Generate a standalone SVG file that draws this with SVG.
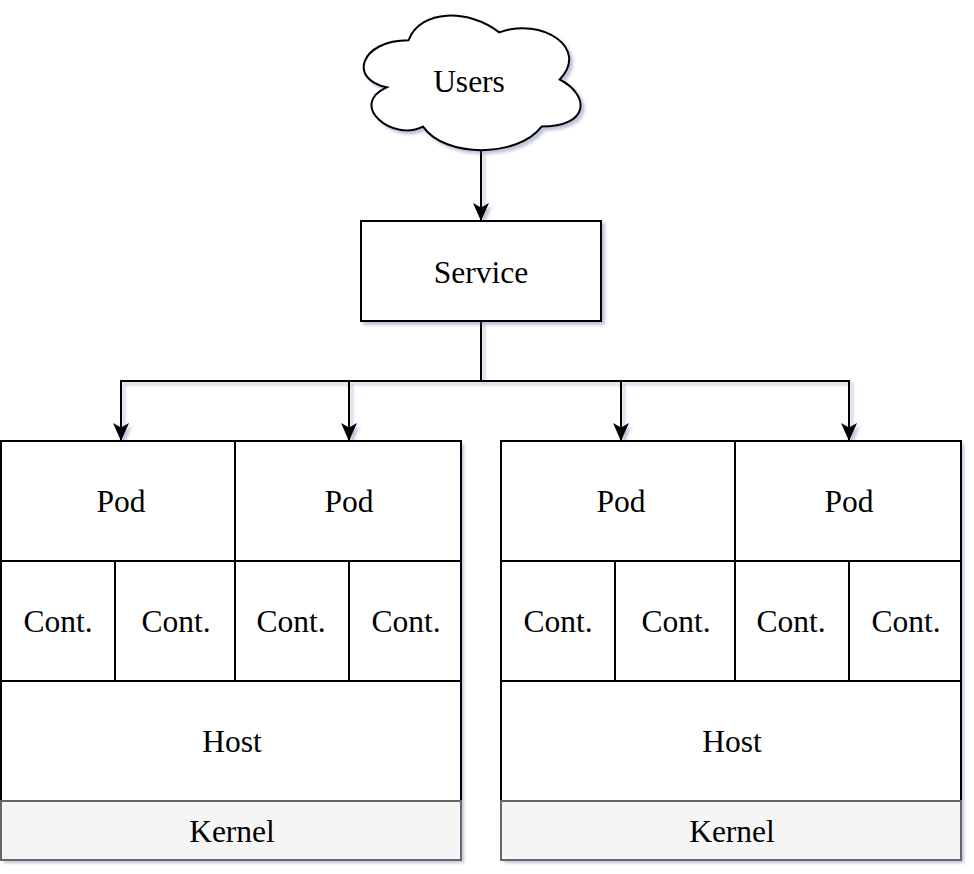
<svg xmlns="http://www.w3.org/2000/svg" width="974" height="874" viewBox="0 0 974 874">
<defs>
<filter id="sh" filterUnits="userSpaceOnUse" x="0" y="0" width="974" height="874">
<feDropShadow dx="3" dy="3" stdDeviation="1.6" flood-color="#4a5290" flood-opacity="0.35"/>
</filter>
<marker id="arr" markerUnits="userSpaceOnUse" markerWidth="20" markerHeight="20" viewBox="-10 -19 20 20" refX="0" refY="0" orient="auto-start-reverse" overflow="visible">
<path d="M0,0 L-8,-18 L0,-13.5 L8,-18 Z" fill="#000" transform="rotate(-90)"/>
</marker>
<style>
.c{fill:#fff;stroke:#000;stroke-width:2}
.k{fill:#f5f5f5;stroke:#666;stroke-width:2}
.t{font-family:"Liberation Serif",serif;font-size:31.5px;fill:#000;text-anchor:middle}
.e{fill:none;stroke:#000;stroke-width:2}
</style>
</defs>
<rect width="974" height="874" fill="#fff"/>

<g id="connectors" filter="url(#sh)">
<path class="e" d="M481,151 V221" marker-end="url(#arr)"/>
<path class="e" d="M481,321 V381 H121 V441" marker-end="url(#arr)"/>
<path class="e" d="M481,321 V381 H349 V441" marker-end="url(#arr)"/>
<path class="e" d="M481,321 V381 H621 V441" marker-end="url(#arr)"/>
<path class="e" d="M481,321 V381 H849 V441" marker-end="url(#arr)"/>
</g>

<g id="users">
<path class="c" filter="url(#sh)" d="M408.5,40.25 C360.1,40.25 348,79.5 386.7,87.35 C348,104.6 391.6,142.3 423,126.6 C444.8,158 517.4,158 541.6,126.6 C590,126.6 590,95.2 559.75,79.5 C590,48.1 541.6,16.7 499.25,32.4 C469,8.85 420.6,8.85 408.5,40.25 Z"/>
<text class="t" x="469" y="92">Users</text>
</g>

<g id="service">
<rect class="c" filter="url(#sh)" x="361" y="221" width="240" height="100"/>
<text class="t" x="481" y="283">Service</text>
</g>

<g id="shadow-left"><rect x="1" y="441" width="460" height="419" fill="#fff" filter="url(#sh)"/></g>
<g id="shadow-right"><rect x="501" y="441" width="460" height="419" fill="#fff" filter="url(#sh)"/></g>

<g id="pod-1"><rect class="c" x="1" y="441" width="234" height="120"/><text class="t" x="121" y="512">Pod</text></g>
<g id="pod-2"><rect class="c" x="235" y="441" width="226" height="120"/><text class="t" x="349" y="512">Pod</text></g>
<g id="cont-1"><rect class="c" x="1" y="561" width="114" height="120"/><text class="t" x="58" y="632">Cont.</text></g>
<g id="cont-2"><rect class="c" x="115" y="561" width="120" height="120"/><text class="t" x="176" y="632">Cont.</text></g>
<g id="cont-3"><rect class="c" x="235" y="561" width="114" height="120"/><text class="t" x="291" y="632">Cont.</text></g>
<g id="cont-4"><rect class="c" x="349" y="561" width="112" height="120"/><text class="t" x="406" y="632">Cont.</text></g>
<g id="host-1"><rect class="c" x="1" y="681" width="460" height="120"/><text class="t" x="232" y="752">Host</text></g>
<g id="kernel-1"><rect class="k" x="1" y="801" width="460" height="59"/><text class="t" x="232" y="842">Kernel</text></g>

<g id="pod-3"><rect class="c" x="501" y="441" width="234" height="120"/><text class="t" x="621" y="512">Pod</text></g>
<g id="pod-4"><rect class="c" x="735" y="441" width="226" height="120"/><text class="t" x="849" y="512">Pod</text></g>
<g id="cont-5"><rect class="c" x="501" y="561" width="114" height="120"/><text class="t" x="558" y="632">Cont.</text></g>
<g id="cont-6"><rect class="c" x="615" y="561" width="120" height="120"/><text class="t" x="676" y="632">Cont.</text></g>
<g id="cont-7"><rect class="c" x="735" y="561" width="114" height="120"/><text class="t" x="791" y="632">Cont.</text></g>
<g id="cont-8"><rect class="c" x="849" y="561" width="112" height="120"/><text class="t" x="906" y="632">Cont.</text></g>
<g id="host-2"><rect class="c" x="501" y="681" width="460" height="120"/><text class="t" x="732" y="752">Host</text></g>
<g id="kernel-2"><rect class="k" x="501" y="801" width="460" height="59"/><text class="t" x="732" y="842">Kernel</text></g>
</svg>
